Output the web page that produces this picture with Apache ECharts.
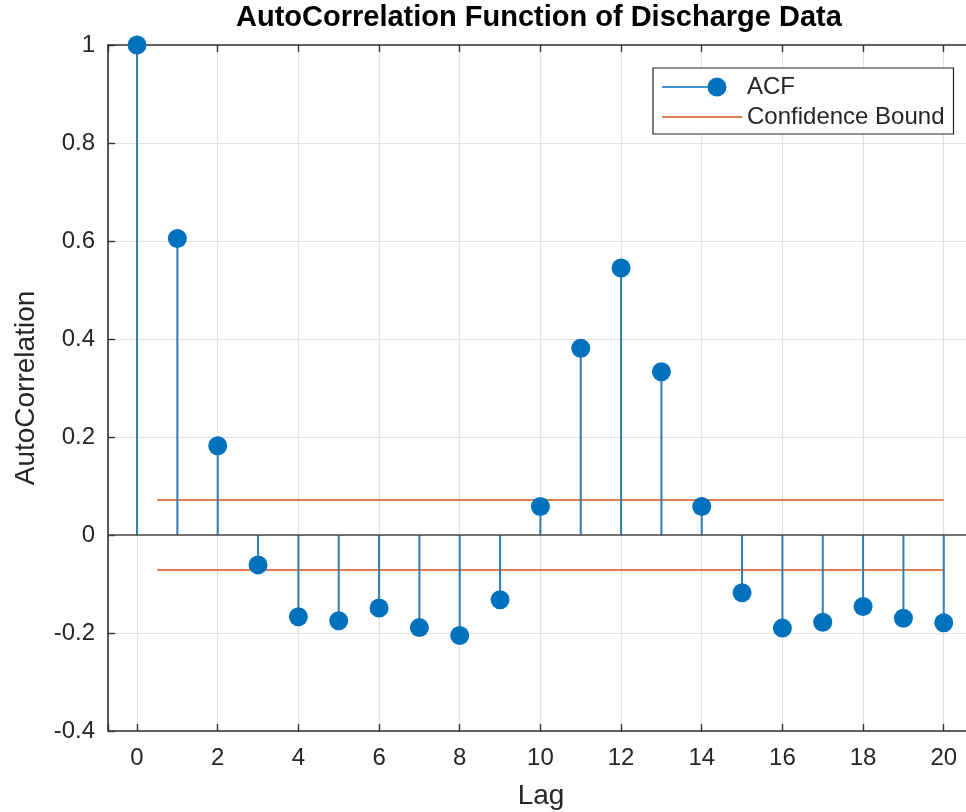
<!DOCTYPE html>
<html>
<head>
<meta charset="utf-8">
<script src="https://cdn.jsdelivr.net/npm/echarts@6/dist/echarts.min.js"></script>
<style>
html,body{margin:0;padding:0;background:#fff;}
#chart{width:966px;height:812px;}
</style>
</head>
<body>
<div id="chart"></div>
<script>
// ---- data ----
const lags = [0, 1, 2, 3, 4, 5, 6, 7, 8, 9, 10, 11, 12, 13, 14, 15, 16, 17, 18, 19, 20];
const acfValues = [1.0, 0.605, 0.182, -0.061, -0.167, -0.175, -0.149, -0.189, -0.205, -0.132,
                   0.058, 0.381, 0.545, 0.333, 0.058, -0.118, -0.190, -0.178, -0.146, -0.170, -0.179];
const confidenceBound = 0.0715;
const confidenceLagRange = [0.5, 20];
const xTickValues = [0, 2, 4, 6, 8, 10, 12, 14, 16, 18, 20];
const yTickValues = [-0.4, -0.2, 0, 0.2, 0.4, 0.6, 0.8, 1];

const titleText = 'AutoCorrelation Function of Discharge Data';
const xName = 'Lag';
const yName = 'AutoCorrelation';

// ---- build options ----
const stemData = lags.map((l, i) => [l, acfValues[i]]);
const upperBound = confidenceLagRange.map(x => [x, confidenceBound]);
const lowerBound = confidenceLagRange.map(x => [x, -confidenceBound]);

const axisColor = '#333333';
const labelColor = '#262626';
const gridColor = '#e0e0e0';
const font = '"Liberation Sans", Arial, Helvetica, sans-serif';

const xLabelFormatter = v => (xTickValues.indexOf(v) >= 0 ? String(v) : '');

const chart = echarts.init(document.getElementById('chart'), null, {renderer: 'canvas'});
chart.setOption({
  animation: false,
  backgroundColor: '#ffffff',
  textStyle: {fontFamily: font},
  title: {
    text: titleText,
    left: 236,
    top: 3,
    padding: 0,
    textStyle: {fontSize: 29, fontWeight: 'bold', color: '#000000', fontFamily: font}
  },
  legend: {
    orient: 'vertical',
    left: 653,
    top: 68,
    padding: [7, 9, 5, 9],
    itemWidth: 80,
    itemHeight: 20,
    itemGap: 6,
    borderColor: '#262626',
    borderWidth: 1.2,
    borderRadius: 0,
    backgroundColor: '#ffffff',
    selectedMode: false,
    textStyle: {fontSize: 24, color: labelColor, fontFamily: font},
    data: [
      {name: 'ACF',
       icon: 'path://M0,9.2L55,9.2L55,10.8L0,10.8Z M45.5,10A9.5,9.5 0 1 1 64.5,10A9.5,9.5 0 1 1 45.5,10Z M79.95,0.05L80,0L80,0.05Z M79.95,19.95L80,20L80,19.95Z M0,0.05L0.05,0L0,0Z M0,19.95L0.05,20L0,20Z',
       itemStyle: {color: '#0072BD'}},
      {name: 'Confidence Bound',
       icon: 'path://M0,9.3L80,9.3L80,10.7L0,10.7Z',
       itemStyle: {color: '#D95319'}}
    ]
  },
  grid: {left: 108, top: 45, width: 866, height: 686, containLabel: false, outerBoundsMode: 'none'},
  xAxis: [
    {
      type: 'value',
      min: -0.72,
      max: 20.75,
      splitNumber: 10,
      name: xName,
      nameLocation: 'middle',
      nameGap: 51,
      nameTextStyle: {fontSize: 28, color: labelColor, fontFamily: font},
      axisLine: {show: true, onZero: false, lineStyle: {color: axisColor, width: 1.6}},
      axisTick: {show: true, inside: true, length: 7, lineStyle: {color: axisColor, width: 1.4}},
      axisLabel: {show: true, margin: 15, fontSize: 24, color: labelColor, fontFamily: font,
                  formatter: xLabelFormatter, showMinLabel: true, showMaxLabel: true, hideOverlap: false},
      splitLine: {show: true, lineStyle: {color: gridColor, width: 1.2}}
    },
    {
      type: 'value',
      position: 'top',
      min: -0.72,
      max: 20.75,
      splitNumber: 10,
      axisLine: {show: true, onZero: false, lineStyle: {color: axisColor, width: 1.6}},
      axisTick: {show: true, inside: true, length: 7, lineStyle: {color: axisColor, width: 1.4}},
      axisLabel: {show: false},
      splitLine: {show: false}
    }
  ],
  yAxis: {
    type: 'value',
    min: -0.4,
    max: 1,
    interval: 0.2,
    name: yName,
    nameLocation: 'middle',
    nameGap: 68,
    nameTextStyle: {fontSize: 28, color: labelColor, fontFamily: font},
    axisLine: {show: true, onZero: false, lineStyle: {color: axisColor, width: 1.6}},
    axisTick: {show: true, inside: true, length: 7, lineStyle: {color: axisColor, width: 1.4}},
    axisLabel: {show: true, margin: 13, fontSize: 24, color: labelColor, fontFamily: font,
                formatter: v => {
                  const r = Math.round(v * 10) / 10;
                  return yTickValues.indexOf(r) >= 0 ? String(r) : '';
                }},
    splitLine: {show: true, lineStyle: {color: gridColor, width: 1.2}}
  },
  series: [
    {
      name: 'ACF',
      type: 'scatter',
      data: stemData,
      symbol: 'circle',
      symbolSize: 19,
      itemStyle: {color: '#0072BD', opacity: 1},
      z: 5,
      silent: true
    },
    {
      name: 'ACF',
      type: 'bar',
      data: stemData,
      barWidth: 2,
      itemStyle: {color: '#2f7db3'},
      z: 3,
      silent: true,
      markLine: {
        silent: true,
        symbol: ['none', 'none'],
        label: {show: false},
        lineStyle: {color: '#4a4a4a', width: 1.6, type: 'solid'},
        data: [{yAxis: 0}]
      }
    },
    {
      name: 'Confidence Bound',
      type: 'line',
      data: upperBound,
      symbol: 'none',
      lineStyle: {color: '#D95319', width: 1.6},
      itemStyle: {color: '#D95319'},
      z: 2,
      silent: true
    },
    {
      name: 'Confidence Bound',
      type: 'line',
      data: lowerBound,
      symbol: 'none',
      lineStyle: {color: '#D95319', width: 1.6},
      itemStyle: {color: '#D95319'},
      z: 2,
      silent: true
    }
  ]
});
</script>
</body>
</html>
